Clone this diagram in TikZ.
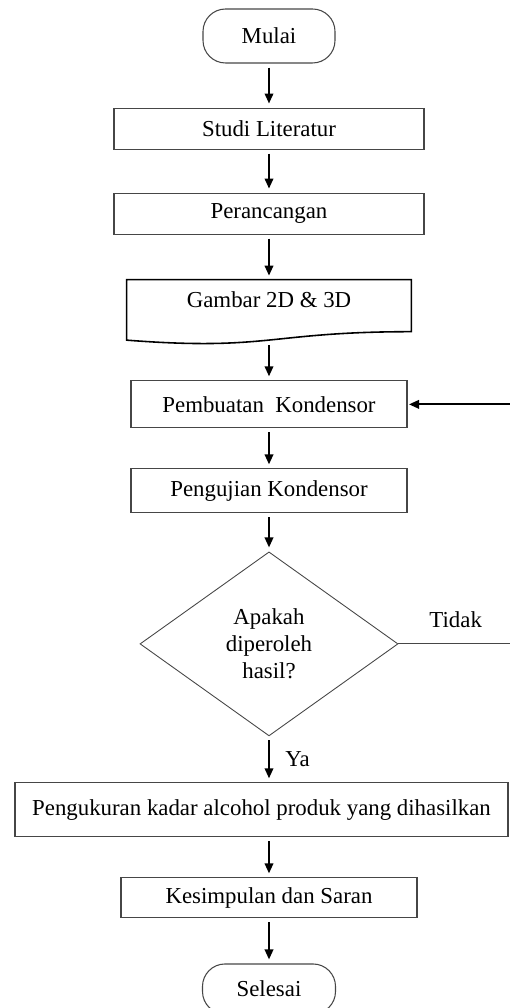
\documentclass[tikz,border=0pt]{standalone}
\usepackage{fontspec}
\setmainfont{Liberation Serif}
\usetikzlibrary{arrows.meta,positioning,shapes.geometric}
\definecolor{alurGray}{RGB}{70,70,70}

\begin{document}
\begin{tikzpicture}[
  font=\fontsize{13}{15.5}\selectfont,
  proc/.style={draw=alurGray,line width=0.6pt,minimum width=6.2cm,minimum height=0.82cm,inner sep=0pt,align=center},
  term/.style={draw=alurGray,line width=0.6pt,rounded corners=0.45cm,minimum width=2.64cm,minimum height=1.08cm,inner sep=0pt},
  docu/.style={minimum width=5.68cm,inner sep=0pt,text height=0.55cm,text depth=0.73cm},
  decide/.style={diamond,draw=alurGray,line width=0.5pt,minimum width=5.16cm,minimum height=3.68cm,inner sep=0pt,align=center},
  arrow/.style={-{Triangle[length=0.2cm,width=0.17cm]},line width=1.1pt,shorten <=0.08cm,shorten >=0.08cm}
]
  \useasboundingbox (0,0) rectangle (10.2,-20.16);
  \node[term] (mulai) at (5.38,-0.72) {Mulai};
  \node[proc,below=0.88cm of mulai] (studi) {Studi Literatur};
  \node[proc,below=0.86cm of studi] (rancang) {Perancangan};
  \node[docu,below=0.9cm of rancang] (gambar) {Gambar 2D \& 3D};
  \draw[line width=0.9pt] (gambar.north west) -- (gambar.north east) -- ([yshift=0.253cm]gambar.south east)
    .. controls ([yshift=0.253cm]gambar.south) and ([yshift=-0.138cm]gambar.south) .. ([yshift=0.084cm]gambar.south west) -- cycle;
  \node[proc,minimum width=5.52cm,minimum height=0.94cm,below=0.72cm of gambar] (pemb) {Pembuatan~ Kondensor};
  \node[proc,minimum width=5.52cm,minimum height=0.88cm,below=0.8cm of pemb] (uji) {Pengujian Kondensor};
  \node[decide,below=0.76cm of uji] (dec) {Apakah\\diperoleh\\hasil?};
  \node[proc,minimum width=9.86cm,minimum height=1.08cm,below=0.92cm of dec,xshift=-0.15cm] (ukur) {Pengukuran kadar alcohol produk yang dihasilkan};
  \node[proc,minimum width=5.92cm,minimum height=0.8cm,below=0.8cm of ukur,xshift=0.15cm] (kesim) {Kesimpulan dan Saran};
  \node[term,minimum width=2.66cm,minimum height=1.0cm,below=0.9cm of kesim] (selesai) {Selesai};
  \coordinate (rim) at (10.26,0);
  % alur utama
  \draw[arrow] (mulai) -- (studi);
  \draw[arrow] (studi) -- (rancang);
  \draw[arrow] (rancang) -- (gambar);
  \draw[arrow,shorten <=0.02cm] (gambar) -- (pemb);
  \draw[arrow] (pemb) -- (uji);
  \draw[arrow] (uji) -- (dec);
  \draw[arrow] (dec.south) -- node[right=0.19cm] {Ya} (dec.south |- ukur.north);
  \draw[arrow] (ukur.south -| kesim) -- (kesim);
  \draw[arrow] (kesim) -- (selesai);
  % kembali ke pembuatan
  \draw[draw=alurGray,line width=0.6pt] (dec.east) -- node[above=0.2cm] {Tidak} (dec.east -| rim) -- (pemb.east -| rim);
  \draw[arrow,shorten <=0pt,shorten >=0.03cm] (pemb.east -| rim) -- (pemb.east);
\end{tikzpicture}
\end{document}
